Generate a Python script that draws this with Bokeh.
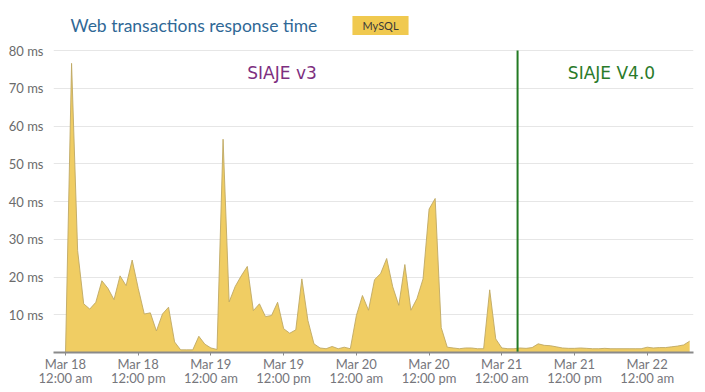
from datetime import datetime, timedelta

from bokeh.plotting import figure
from bokeh.models import ColumnDataSource, FixedTicker, Label, Range1d
from bokeh.embed import file_html
from bokeh.resources import INLINE

# ---------------- data ----------------
start_time = datetime(2015, 3, 18, 0, 0)
response_ms = [
    0.0, 76.6, 27.0, 12.9, 11.5, 13.3, 19.0, 17.0, 14.0, 20.3,
    17.7, 24.5, 17.0, 10.2, 10.5, 5.7, 10.2, 12.0, 2.8, 0.7,
    0.7, 0.7, 4.3, 2.2, 1.2, 0.8, 56.5, 13.4, 17.5, 20.3,
    22.8, 11.1, 12.9, 9.5, 9.8, 13.3, 6.3, 5.1, 6.0, 19.5,
    8.5, 2.3, 1.2, 1.0, 1.6, 1.0, 1.4, 1.0, 9.8, 15.1,
    11.2, 19.3, 20.9, 24.9, 17.4, 12.5, 23.3, 11.2, 14.3, 19.5,
    38.0, 40.8, 6.6, 1.4, 1.2, 1.0, 1.2, 1.2, 1.0, 1.0,
    16.6, 3.6, 1.2, 1.0, 1.0, 1.2, 1.1, 1.3, 2.3, 1.9,
    1.8, 1.5, 1.2, 1.1, 1.1, 1.2, 1.1, 1.0, 1.0, 1.1,
    1.0, 1.0, 1.0, 1.0, 1.0, 1.0, 1.4, 1.2, 1.3, 1.3,
    1.5, 1.7, 2.0, 3.0,
]
times = [start_time + timedelta(hours=i) for i in range(len(response_ms))]

tick_times = [start_time + timedelta(hours=12 * k) for k in range(9)]
tick_labels = [
    "Mar 18\n12:00 am", "Mar 18\n12:00 pm",
    "Mar 19\n12:00 am", "Mar 19\n12:00 pm",
    "Mar 20\n12:00 am", "Mar 20\n12:00 pm",
    "Mar 21\n12:00 am", "Mar 21\n12:00 pm",
    "Mar 22\n12:00 am",
]
y_ticks = [10, 20, 30, 40, 50, 60, 70, 80]
y_labels = ["10 ms", "20 ms", "30 ms", "40 ms", "50 ms", "60 ms", "70 ms", "80 ms"]
y_max = 80

release_time = datetime(2015, 3, 21, 2, 36)
x_start = datetime(2015, 3, 17, 22, 1)
x_end = datetime(2015, 3, 22, 7, 38)

EPOCH = datetime(1970, 1, 1)


def ms(dt):
    return int((dt - EPOCH).total_seconds() * 1000)


# ---------------- figure ----------------
src = ColumnDataSource(dict(t=times, v=response_ms))

p = figure(
    width=705, height=392,
    x_axis_type="datetime",
    x_range=Range1d(ms(x_start), ms(x_end)),
    y_range=Range1d(0, 93.25),   # headroom above 80 ms for the title strip
    output_backend="svg", toolbar_location=None,
    min_border_left=53, min_border_right=12, min_border_top=0, min_border_bottom=40,
)
p.outline_line_color = None
p.background_fill_color = "white"
p.border_fill_color = "white"

p.varea(x="t", y1=0, y2="v", source=src, fill_color="#f0cd63", fill_alpha=1.0)
p.line(x="t", y="v", source=src, line_color="#bfa964", line_width=1, line_alpha=0.9)

# grid
p.xgrid.grid_line_color = None
p.ygrid.ticker = FixedTicker(ticks=y_ticks)
p.ygrid.grid_line_color = "#e6e6e6"
p.ygrid.grid_line_width = 1

# y axis
p.yaxis.ticker = FixedTicker(ticks=y_ticks)
p.yaxis.major_label_overrides = {t: lab for t, lab in zip(y_ticks, y_labels)}
p.yaxis.axis_line_color = None
p.yaxis.major_tick_line_color = None
p.yaxis.minor_tick_line_color = None
p.yaxis.major_tick_out = 0
p.yaxis.major_tick_in = 0
p.yaxis.major_label_standoff = 10
p.yaxis.major_label_text_font = "Lato"
p.yaxis.major_label_text_font_size = "13px"
p.yaxis.major_label_text_color = "#6b6b6b"

# x axis
tick_ms = [ms(t) for t in tick_times]
p.xaxis.ticker = FixedTicker(ticks=tick_ms)
p.xaxis.major_label_overrides = {t: lab for t, lab in zip(tick_ms, tick_labels)}
p.xaxis.axis_line_color = "#8a8a8a"
p.xaxis.axis_line_width = 2
p.xaxis.major_tick_line_color = "#8a8a8a"
p.xaxis.major_tick_out = 3
p.xaxis.major_tick_in = 0
p.xaxis.minor_tick_line_color = None
p.xaxis.major_label_standoff = 0
p.xaxis.major_label_text_font = "Lato"
p.xaxis.major_label_text_font_size = "13px"
p.xaxis.major_label_text_color = "#76767c"
p.xaxis.major_label_text_line_height = 0.9

# release marker (from the axis up to the 80 ms line)
p.segment(x0=[release_time], y0=[0], x1=[release_time], y1=[y_max],
          line_color="#237a23", line_width=2)

p.add_layout(Label(x=ms(datetime(2015, 3, 19, 6, 0)), y=74, text="SIAJE v3",
                   text_font="DejaVu Sans", text_font_size="17px",
                   text_color="#7d2f7f", text_baseline="middle", text_align="left"))
p.add_layout(Label(x=ms(datetime(2015, 3, 21, 10, 54)), y=74, text="SIAJE V4.0",
                   text_font="DejaVu Sans", text_font_size="17px",
                   text_color="#2a7a2a", text_baseline="middle", text_align="left"))

# title and legend swatch in the strip above 80 ms
p.add_layout(Label(x=17, x_units="screen", y=86.6, text="Web transactions response time",
                   text_font="Lato", text_font_size="17.5px", text_color="#2f6896",
                   text_baseline="middle", text_align="left"))
p.add_layout(Label(x=327, x_units="screen", y=86.6, text="MySQL",
                   text_font="Lato", text_font_size="11px", text_color="#3a3a3a",
                   text_baseline="middle", text_align="center",
                   background_fill_color="#f0c94f",
                   padding=dict(left=10, right=10, top=3, bottom=3)))

open("out.html", "w").write(file_html(p, INLINE))
